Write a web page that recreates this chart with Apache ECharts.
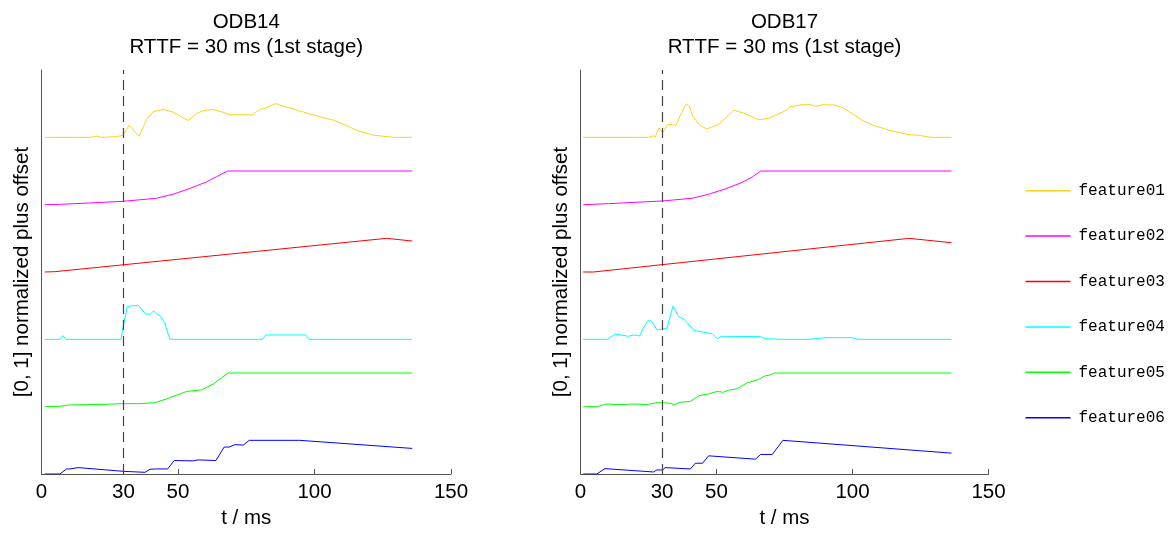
<!DOCTYPE html>
<html>
<head>
<meta charset="utf-8">
<script src="https://cdn.jsdelivr.net/npm/echarts@6/dist/echarts.min.js"></script>
<style>
  html, body { margin: 0; padding: 0; background: #fff; }
  #chart { width: 1171px; height: 534px; }
</style>
</head>
<body>
<div id="chart"></div>
<script>
// ---------- data (t in ms, value normalized to [0,1]) ----------
const featureNames = ['feature01', 'feature02', 'feature03', 'feature04', 'feature05', 'feature06'];
const featureOffsets = [10, 8, 6, 4, 2, 0];
const xTickValues = [0, 30, 50, 100, 150];
const rttf = 30;
const panelTitles = ['ODB14\nRTTF = 30 ms (1st stage)', 'ODB17\nRTTF = 30 ms (1st stage)'];

// ODB14
const odb14_feature01 = [[1.2,0],[18.3,0],[20.1,0.04],[22,0],[27.5,0.02],[29.9,0.065],[32.1,0.36],[35.7,0.03],[38.5,0.53],[40.9,0.76],[44.6,0.83],[48.2,0.75],[53.7,0.5],[56.8,0.71],[59.2,0.79],[62.9,0.83],[66,0.76],[69,0.67],[77,0.67],[80,0.83],[82.4,0.88],[85.7,1.0],[89.8,0.9],[95.9,0.75],[102,0.61],[106.9,0.51],[110.6,0.39],[115.4,0.21],[121.5,0.065],[128.9,0],[135.8,0]];
const odb14_feature02 = [[1.2,0],[6.7,0.01],[17.7,0.05],[29.9,0.1],[42.1,0.19],[48.2,0.31],[54.3,0.48],[60.5,0.68],[64.1,0.83],[68.2,1.0],[135.8,1.0]];
const odb14_feature03 = [[1.2,0],[4.9,0.01],[126.4,1.0],[135.8,0.92]];
const odb14_feature04 = [[1.2,0],[7,0],[7.9,0.11],[8.9,0],[29.1,0],[29.9,0.37],[31.4,0.97],[33,1.0],[35.7,1.0],[38.1,0.75],[39.9,0.75],[41.1,0.85],[42.1,0.76],[43.6,0.69],[45.2,0.47],[47,0],[81,0],[82.2,0.13],[96.8,0.13],[98.1,0],[135.8,0]];
const odb14_feature05 = [[1.2,0],[6.7,0.01],[9.8,0.05],[23.8,0.07],[29.3,0.09],[36,0.09],[41.5,0.12],[45.8,0.23],[53.1,0.45],[58.6,0.5],[62.9,0.67],[66,0.86],[68.4,1.0],[135.8,1.0]];
const odb14_feature06 = [[1.2,0],[6.7,0],[9.2,0.15],[10.4,0.15],[13.4,0.19],[29.9,0.08],[37.9,0.05],[39.7,0.14],[42.1,0.15],[46.2,0.15],[48.6,0.4],[55.6,0.39],[57.4,0.42],[63.9,0.4],[66.9,0.8],[68.7,0.8],[70.8,0.87],[73.9,0.86],[76.1,1.0],[94.6,1.0],[135.8,0.76]];

// ODB17
const odb17_feature01 = [[1,0],[25,0],[26.5,0.04],[27.5,0.02],[28.9,0.28],[30.2,0.14],[32.1,0.38],[33.8,0.38],[35.1,0.35],[36.8,0.67],[38.9,1.0],[40.1,0.91],[41.2,0.63],[44,0.35],[46.5,0.25],[50.8,0.38],[56.3,0.8],[60,0.72],[65.5,0.52],[69.2,0.57],[75.4,0.79],[77.2,0.91],[81.5,0.97],[84.6,0.97],[86.4,0.92],[88.9,0.97],[93.2,0.96],[96.3,0.89],[100,0.7],[103.7,0.5],[107.3,0.37],[112.2,0.24],[117.1,0.14],[120.8,0.08],[124.5,0.06],[128.8,0],[136.4,0]];
const odb17_feature02 = [[1,0],[10.3,0.03],[30.2,0.11],[41,0.19],[47.1,0.31],[53.3,0.47],[59.4,0.66],[63.1,0.82],[66.3,1.0],[136.4,1.0]];
const odb17_feature03 = [[1,0],[4.7,0],[120.8,1.0],[136.4,0.87]];
const odb17_feature04 = [[1,0],[9.9,0],[12.7,0.16],[17.6,0.09],[19.5,0.13],[21.7,0.1],[23.1,0.34],[25,0.57],[26.2,0.53],[28.1,0.28],[31.8,0.33],[34,0.99],[36.1,0.68],[37.9,0.61],[41.6,0.27],[45.3,0.21],[48.4,0.17],[50.2,0.02],[52,0.09],[66.2,0.08],[67.8,0.02],[74.1,0],[84,0],[90.1,0.05],[100,0.05],[101.8,0],[136.4,0]];
const odb17_feature05 = [[1,0],[6,0],[9.7,0.08],[13.9,0.06],[20.1,0.08],[24.4,0.06],[28.1,0.12],[32.4,0.11],[34.6,0.06],[36.7,0.13],[40.4,0.16],[43.7,0.33],[47.1,0.38],[50.2,0.45],[52.6,0.43],[54.5,0.49],[57.6,0.53],[61.3,0.71],[64.9,0.79],[68,0.92],[69.8,0.94],[71.3,1.0],[136.4,1.0]];
const odb17_feature06 = [[1,0],[6,0],[9,0.16],[26.8,0.06],[28.1,0.12],[30.2,0.12],[31.1,0.19],[40.4,0.15],[42.2,0.32],[44.9,0.32],[47.1,0.54],[64.3,0.44],[66.2,0.58],[70.5,0.58],[74.4,1.0],[136.4,0.62]];

const panels = [
  [odb14_feature01, odb14_feature02, odb14_feature03, odb14_feature04, odb14_feature05, odb14_feature06],
  [odb17_feature01, odb17_feature02, odb17_feature03, odb17_feature04, odb17_feature05, odb17_feature06]
];

// ---------- styling ----------
const colors = ['#FFD21A', '#FF00FF', '#FF0000', '#00FFFF', '#00FF00', '#0000FF'];
const FONT = '"Liberation Sans", Arial, sans-serif';
const FS = 20.5;
const grids = [
  { left: 41.5, top: 70, width: 409.5, height: 409 },
  { left: 580.5, top: 70, width: 408, height: 409 }
];
const axisColor = '#555';

const chart = echarts.init(document.getElementById('chart'), null, { renderer: 'canvas' });

const series = [];
panels.forEach((feats, p) => {
  feats.forEach((pts, k) => {
    const s = {
      name: featureNames[k],
      type: 'line',
      xAxisIndex: p,
      yAxisIndex: p,
      symbol: 'none',
      showSymbol: false,
      animation: false,
      color: colors[k],
      lineStyle: { color: colors[k], width: 1 },
      emphasis: { disabled: true },
      data: pts.map(d => [d[0], d[1] + featureOffsets[k]])
    };
    if (k === 0) {
      s.markLine = {
        silent: true,
        symbol: 'none',
        label: { show: false },
        animation: false,
        lineStyle: { color: '#444', type: [10, 6], width: 1.2 },
        data: [{ xAxis: rttf }]
      };
    }
    series.push(s);
  });
});

const option = {
  backgroundColor: '#fff',
  animation: false,
  title: panelTitles.map((t, i) => ({
    text: t,
    left: grids[i].left + grids[i].width / 2,
    textAlign: 'center',
    top: 9.5,
    padding: 0,
    textStyle: { fontFamily: FONT, fontSize: FS, fontWeight: 'normal', color: '#000', lineHeight: 25 }
  })),
  legend: {
    orient: 'vertical',
    left: 1025.5,
    top: 182.7,
    padding: 0,
    icon: 'rect',
    itemWidth: 45,
    itemHeight: 1.5,
    itemGap: 29.4,
    data: featureNames,
    selectedMode: false,
    textStyle: { fontFamily: '"Liberation Mono", "Courier New", monospace', fontSize: 16, color: '#000', padding: [0, 0, 0, 3], lineHeight: 16 }
  },
  grid: grids.map(g => Object.assign({ containLabel: false }, g)),
  xAxis: grids.map((g, i) => ({
    type: 'value',
    gridIndex: i,
    min: 0,
    max: 150,
    name: 't / ms',
    nameLocation: 'middle',
    nameGap: 34,
    nameTextStyle: { fontFamily: FONT, fontSize: FS, color: '#000' },
    axisLine: { show: true, onZero: false, lineStyle: { color: axisColor, width: 1 } },
    axisTick: { show: true, inside: true, length: 5, customValues: xTickValues, lineStyle: { color: axisColor } },
    axisLabel: { customValues: xTickValues, fontFamily: FONT, fontSize: FS, color: '#000', margin: 8 },
    splitLine: { show: false }
  })),
  yAxis: grids.map((g, i) => ({
    type: 'value',
    gridIndex: i,
    min: 0,
    max: 12,
    name: '[0, 1] normalized plus offset',
    nameLocation: 'middle',
    nameRotate: 90,
    nameGap: 9,
    nameTextStyle: { fontFamily: FONT, fontSize: FS, color: '#000' },
    axisLine: { show: true, onZero: false, lineStyle: { color: axisColor, width: 1 } },
    axisTick: { show: false },
    axisLabel: { show: false },
    splitLine: { show: false }
  })),
  series: series
};

chart.setOption(option);
</script>
</body>
</html>
